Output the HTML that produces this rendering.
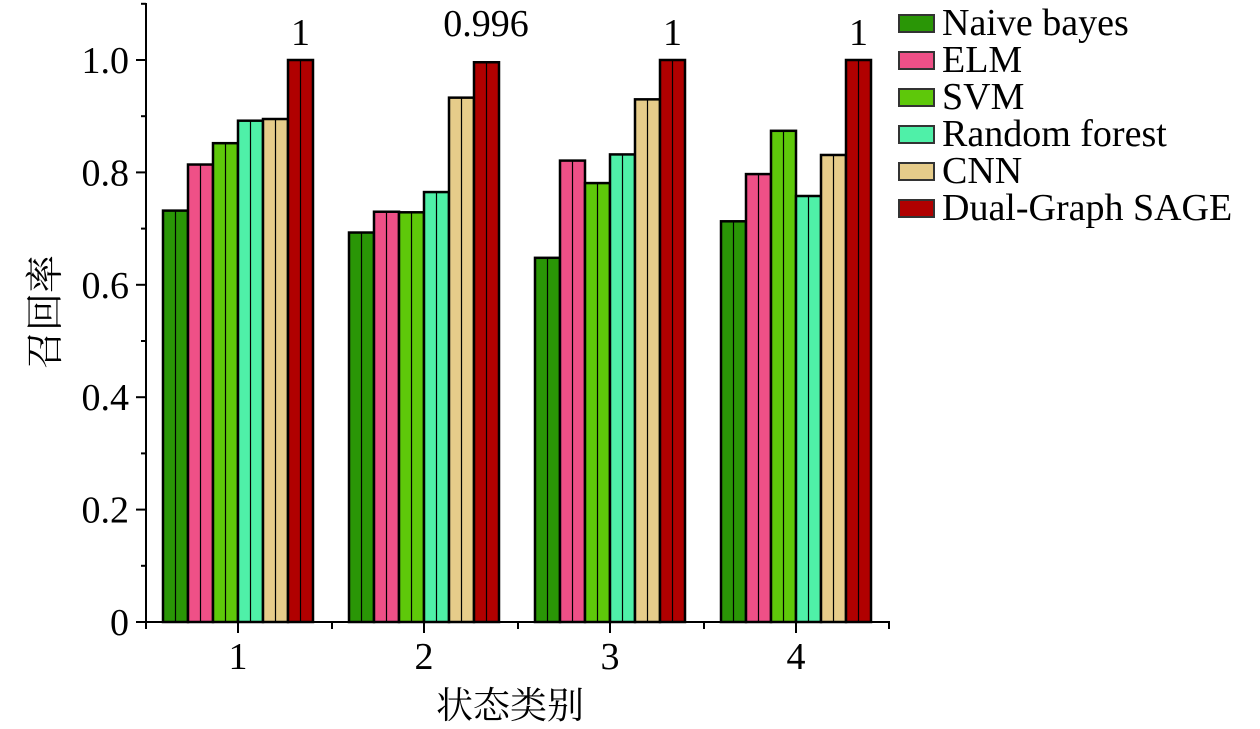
<!DOCTYPE html>
<html><head><meta charset="utf-8"><style>
body{margin:0;background:#fff}
svg text{font-family:"Liberation Serif","Noto Serif CJK SC",serif;fill:#000}
</style></head><body>
<svg id="c" width="1260" height="724" xmlns="http://www.w3.org/2000/svg"></svg>
<script>
const categories=["1","2","3","4"];
const seriesNames=["Naive bayes","ELM","SVM","Random forest","CNN","Dual-Graph SAGE"];
const colors=["#2a9606","#ef5087","#5ec80a","#4ff0a8","#e6cc8a","#b00000"];
const naive=[0.732,0.693,0.648,0.713];
const elm=[0.814,0.730,0.821,0.797];
const svmV=[0.852,0.729,0.781,0.874];
const rf=[0.892,0.765,0.832,0.758];
const cnn=[0.895,0.933,0.930,0.831];
const dual=[1,0.996,1,1];
const series=[naive,elm,svmV,rf,cnn,dual];
const annotations=["1","0.996","1","1"];
const yTicks=[0,0.2,0.4,0.6,0.8,1.0];
const yTickLabels=["0","0.2","0.4","0.6","0.8","1.0"];
const NS="http://www.w3.org/2000/svg";
const svg=document.getElementById('c');
function mk(t,a,p){const e=document.createElementNS(NS,t);for(const k in a)e.setAttribute(k,a[k]);(p||svg).appendChild(e);return e;}
const y=v=>622-v*562;
const gx=i=>238+i*186;
const bw=25;
const ax=mk('line',{x1:146,y1:3,x2:146,y2:622,stroke:'#000','stroke-width':2});

const xa=mk('line',{x1:146,y1:622,x2:890,y2:622,stroke:'#000','stroke-width':2});

yTicks.forEach((v,i)=>{
  mk('line',{x1:136,y1:y(v),x2:146,y2:y(v),stroke:'#000','stroke-width':2});
  mk('line',{x1:141,y1:y(v+0.1),x2:146,y2:y(v+0.1),stroke:'#000','stroke-width':2});
  const t=mk('text',{x:129,y:y(v)+13,'text-anchor':'end','font-size':38});
  t.textContent=yTickLabels[i];
  
  
});
for(let i=0;i<=categories.length;i++){
  const bx=146+i*186;
  mk('line',{x1:Math.min(bx,889),y1:622,x2:Math.min(bx,889),y2:629,stroke:'#000','stroke-width':2});
}
categories.forEach((c,i)=>{
  mk('line',{x1:gx(i),y1:622,x2:gx(i),y2:633,stroke:'#000','stroke-width':2});
  const t=mk('text',{x:gx(i),y:669,'text-anchor':'middle','font-size':38});
  t.textContent=c;
  
  
  series.forEach((s,k)=>{
    const x0=gx(i)-3*bw+k*bw;
    const r=mk('rect',{x:x0,y:y(s[i]),width:bw,height:y(0)-y(s[i]),fill:colors[k],stroke:'#000','stroke-width':2.5});
    
    
    mk('line',{x1:x0+bw/2,y1:y(s[i]),x2:x0+bw/2,y2:y(0),stroke:'#000','stroke-width':1.2});
  });
  const a=mk('text',{x:gx(i)+3*bw-bw/2,y:y(dual[i])-15,'text-anchor':'middle','font-size':38});
  if(annotations[i]!=="1"){a.setAttribute('x',gx(i)+62);a.setAttribute('y',y(dual[i])-26);}
  a.textContent=annotations[i];
  
  
});
const yt=mk('text',{x:0,y:0,'text-anchor':'middle','font-size':38,transform:'translate(58,312) rotate(-90)'});
yt.textContent='召回率';


const xt=mk('text',{x:510,y:718,'text-anchor':'middle','font-size':37});
xt.textContent='状态类别';


seriesNames.forEach((n,k)=>{
  const ly=22+k*37;
  const g=mk('g',{});
  
  
  mk('rect',{x:899,y:ly-7,width:35,height:17,fill:colors[k],stroke:'#333','stroke-width':2},g);
  const t=mk('text',{x:942,y:ly+13,'font-size':38},g);
  t.textContent=n;
});
</script>
</body></html>
